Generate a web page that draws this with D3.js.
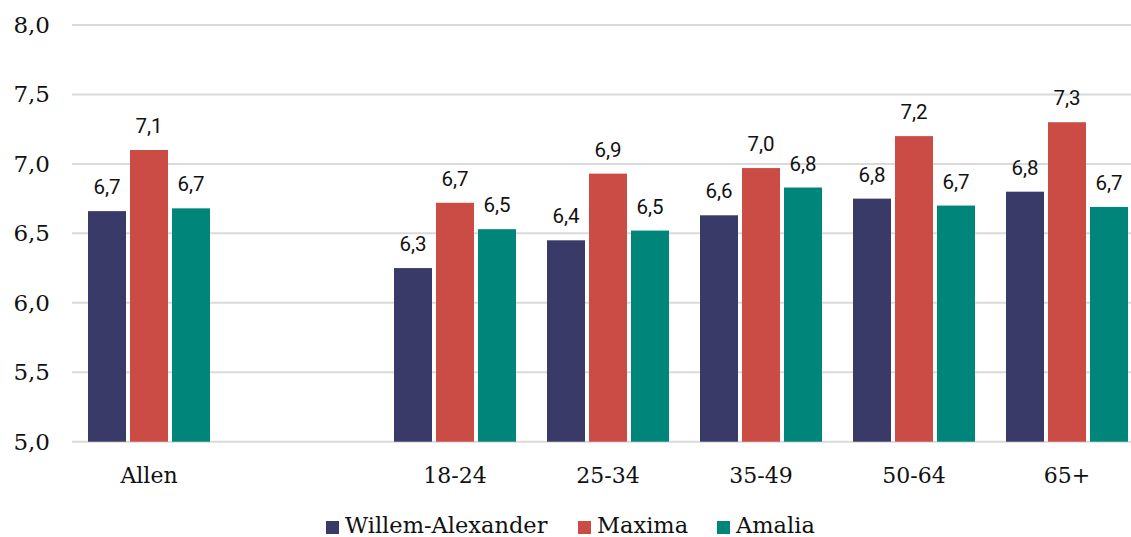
<!DOCTYPE html>
<html>
<head>
<meta charset="utf-8">
<script src="https://cdn.jsdelivr.net/npm/d3@7"></script>
<style>
  html, body { margin: 0; padding: 0; background: #fff; }
  svg { display: block; }
</style>
</head>
<body>
<svg id="chart" width="1131" height="537"></svg>
<script>
const categories = ["Allen", "", "18-24", "25-34", "35-49", "50-64", "65+"];
const seriesNames = ["Willem-Alexander", "Maxima", "Amalia"];
const willemAlexander = [6.66, null, 6.25, 6.45, 6.63, 6.75, 6.80];
const maxima          = [7.10, null, 6.72, 6.93, 6.97, 7.20, 7.30];
const amalia          = [6.68, null, 6.53, 6.52, 6.83, 6.70, 6.69];
const labelWA = ["6,7", "", "6,3", "6,4", "6,6", "6,8", "6,8"];
const labelMX = ["7,1", "", "6,7", "6,9", "7,0", "7,2", "7,3"];
const labelAM = ["6,7", "", "6,5", "6,5", "6,8", "6,7", "6,7"];
const yTicks = [5.0, 5.5, 6.0, 6.5, 7.0, 7.5, 8.0];
const colors = ["#393a68", "#cb4c44", "#00857a"];

const seriesValues = [willemAlexander, maxima, amalia];
const seriesLabels = [labelWA, labelMX, labelAM];

const svg = d3.select("#chart");
const serif = "'DejaVu Serif', serif";
const sans = "Roboto, 'Liberation Sans', sans-serif";

const y = d3.scaleLinear().domain([5, 8]).range([441.7, 25]);
const x0 = d3.scaleBand().domain(categories).range([72.5, 1143.5])
  .paddingInner(31 / 153).paddingOuter(31 / 306);
const x1 = d3.scaleBand().domain(seriesNames).range([0, x0.bandwidth()])
  .paddingInner(0.0952).paddingOuter(0);

// gridlines
svg.append("g").selectAll("line").data(yTicks).join("line")
  .attr("x1", 72).attr("x2", 1131)
  .attr("y1", d => y(d)).attr("y2", d => y(d))
  .attr("stroke", "#dadada").attr("stroke-width", 2);

// y tick labels
svg.append("g").selectAll("text").data(yTicks).join("text")
  .attr("x", 50).attr("y", d => y(d))
  .attr("text-anchor", "end").attr("dominant-baseline", "central")
  .attr("font-family", serif).attr("font-size", 23).attr("fill", "#111")
  .text(d => d.toFixed(1).replace(".", ","));

// bars
const flat = [];
categories.forEach((c, i) => {
  seriesNames.forEach((s, j) => {
    const v = seriesValues[j][i];
    if (v != null) flat.push({ c, s, j, v, label: seriesLabels[j][i] });
  });
});

svg.append("g").selectAll("rect").data(flat).join("rect")
  .attr("x", d => x0(d.c) + x1(d.s))
  .attr("width", x1.bandwidth())
  .attr("y", d => y(d.v))
  .attr("height", d => y(5) - y(d.v))
  .attr("fill", d => colors[d.j]);

// data labels
svg.append("g").selectAll("text").data(flat).join("text")
  .attr("x", d => x0(d.c) + x1(d.s) + x1.bandwidth() / 2)
  .attr("y", d => y(d.v) - 17)
  .attr("text-anchor", "middle")
  .attr("font-family", sans).attr("font-size", 20.5).attr("fill", "#111")
  .text(d => d.label);

// x labels
svg.append("g").selectAll("text").data(categories.filter(c => c !== "")).join("text")
  .attr("x", d => x0(d) + x0.bandwidth() / 2)
  .attr("y", 483)
  .attr("text-anchor", "middle")
  .attr("font-family", serif).attr("font-size", 22).attr("fill", "#111")
  .text(d => d);

// legend
const legendX = [326, 578, 717];
const lg = svg.append("g").selectAll("g").data(seriesNames).join("g")
  .attr("transform", (d, i) => `translate(${legendX[i]},0)`);
lg.append("rect").attr("x", 0).attr("y", 521).attr("width", 13).attr("height", 13)
  .attr("fill", (d, i) => colors[i]);
lg.append("text").attr("x", 19).attr("y", 533)
  .attr("font-family", serif).attr("font-size", 22.5).attr("fill", "#111")
  .text(d => d);
</script>
</body>
</html>
